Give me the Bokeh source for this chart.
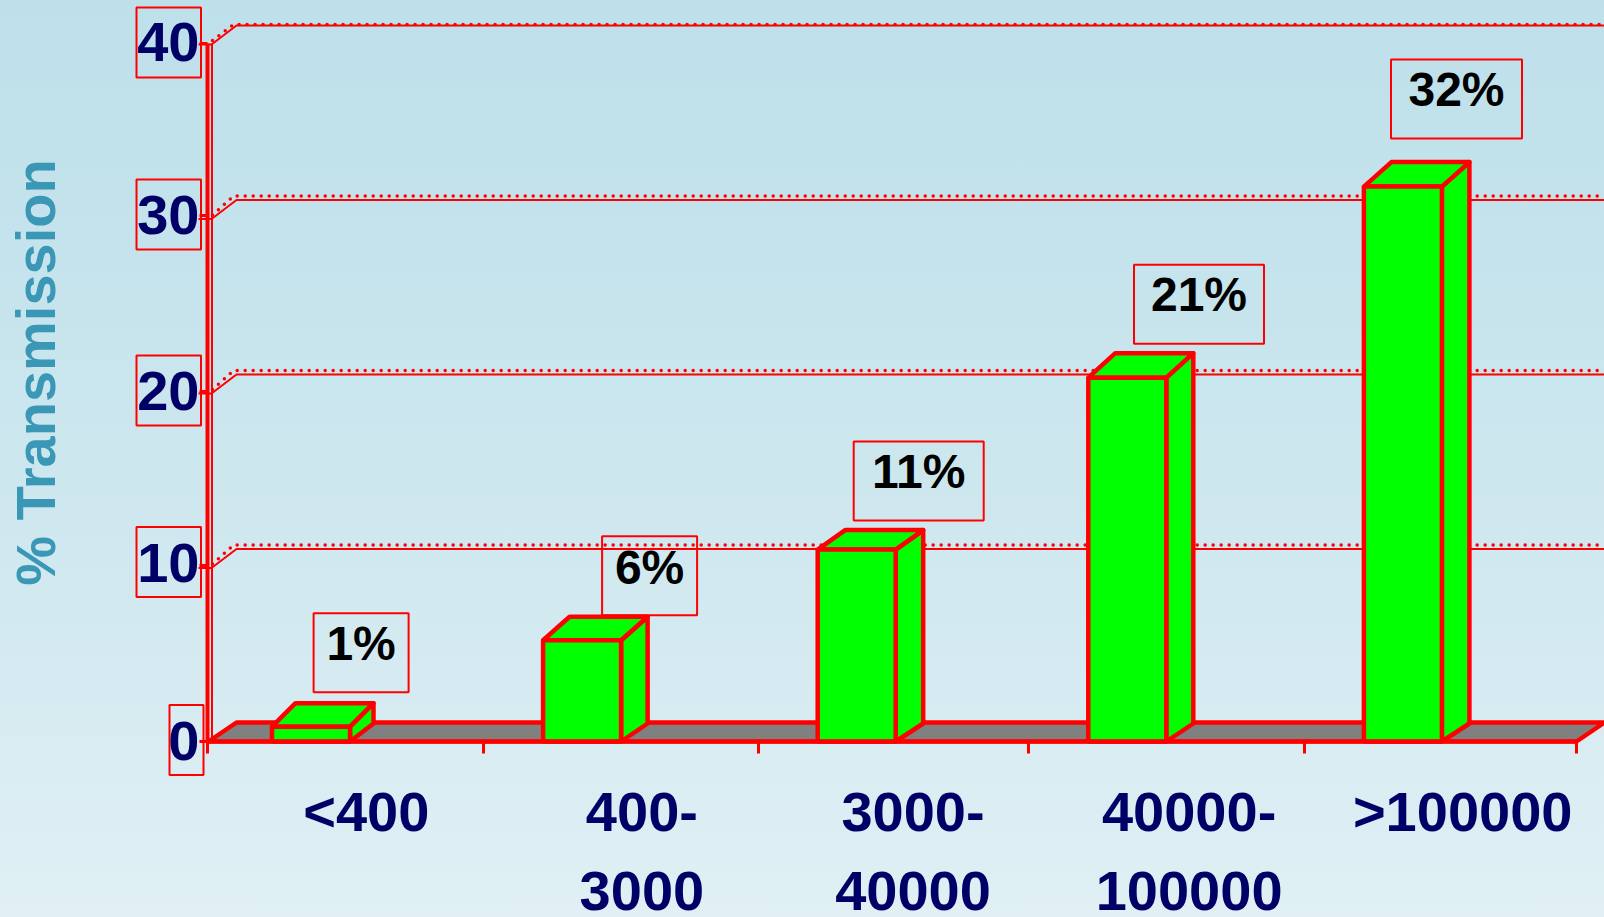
import math
from bokeh.plotting import figure
from bokeh.models import Range1d, LinearAxis, FixedTicker
from bokeh.core.properties import value
from bokeh.embed import file_html
from bokeh.resources import INLINE

# ---- chart data ----
categories = ["<400", "400-\n3000", "3000-\n40000", "40000-\n100000", ">100000"]
transmission = [0.85, 5.8, 11.0, 20.85, 31.8]
value_labels = ["1%", "6%", "11%", "21%", "32%"]
y_ticks = [0, 10, 20, 30, 40]
x_ticks = [0, 1, 2, 3, 4, 5]
y_title = "% Transmission"

# ---- layout (pixels) ----
PX_X = 273.6
PX_Y = 17.45
LEFT, BOTTOM = 208, 176
W, H = 1604, 917
def dx(px): return px / PX_X
def dy(px): return px / PX_Y

RED, GREEN, NAVY, TEAL, GREY = "#ff0000", "#00ff00", "#000066", "#3a97b5", "#808080"
FONT = "Liberation Sans"

css = """:host{position:fixed !important;left:0 !important;top:0 !important;
background:linear-gradient(180deg,#bee0ea 0%,#c4e3ec 25%,#d0e8ef 60%,#e0f0f5 100%) !important;}"""

p = figure(width=W, height=H, frame_width=W, frame_height=H,
           output_backend="svg", toolbar_location=None,
           x_range=Range1d(dx(-LEFT), dx(W - LEFT)), y_range=Range1d(dy(-BOTTOM), dy(H - BOTTOM)),
           x_axis_location=None, y_axis_location=None,
           min_border_left=0, min_border_bottom=0, min_border_top=0, min_border_right=0,
           background_fill_alpha=0, border_fill_alpha=0, outline_line_color=None,
           stylesheets=[css])
p.grid.visible = False

# ---- back wall grid lines ----
RISE = dy(19)
DEPTH = dx(28)
grid = [t for t in y_ticks if t > 0]
xs_end = dx(W - LEFT)
p.multi_line(xs=[[dx(-10), dx(3), DEPTH, xs_end] for _ in grid],
             ys=[[t - dy(1), t - dy(1), t + RISE - dy(1), t + RISE - dy(1)] for t in grid],
             line_color=RED, line_width=2)
dot_up = [dy(0) if t == 40 else dy(3) for t in grid]
p.multi_line(xs=[[dx(4), DEPTH - dx(3), xs_end] for _ in grid],
             ys=[[t + dy(3), t + RISE + u, t + RISE + u] for t, u in zip(grid, dot_up)],
             line_color=RED, line_width=3.5, line_dash="0 8", line_cap="round")
# second thin wall edge
p.line([dx(3.5), dx(3.5)], [0, 40], line_color=RED, line_width=2)

# ---- floor ----
p.patch([0, 5, 5 + dx(28), DEPTH], [0, 0, dy(19), dy(19)],
        fill_color=GREY, line_color=RED, line_width=4.5)

# ---- bars ----
bar_nudge = [2.5, 0, 1, -2, 0]
BAR_OFF, BAR_W = dx(61), dx(78)
top_dx = [dx(n) for n in [23.5, 26.5, 27.5, 27, 27.5]]
top_dy = [dy(n) for n in [23.5, 23.5, 19.5, 24.5, 24.5]]
BASE_DY = dy(18)
LW = 4.5
lefts = [i + BAR_OFF + dx(n) for i, n in enumerate(bar_nudge)]
rights = [l + BAR_W for l in lefts]
p.patches(xs=[[r, r + a, r + a, r] for r, a in zip(rights, top_dx)],
          ys=[[0, BASE_DY, v + b, v] for v, b in zip(transmission, top_dy)],
          fill_color=GREEN, line_color=RED, line_width=LW, line_join="round")
p.patches(xs=[[l, l + a, r + a, r] for l, r, a in zip(lefts, rights, top_dx)],
          ys=[[v, v + b, v + b, v] for v, b in zip(transmission, top_dy)],
          fill_color=GREEN, line_color=RED, line_width=LW, line_join="round")
p.quad(left=lefts, right=rights, bottom=[0] * len(lefts), top=transmission,
       fill_color=GREEN, line_color=RED, line_width=LW)

# ---- value labels in boxes ----
box_w = [95, 95, 130, 130, 131]
box_gap = [34.5, 25, 29, 34, 48]            # above the bar top
box_cx = [152.6, 167.5, 163, 169.7, 153.6]  # from the category's left tick
BOX_H = 79
text_up = [9, 8, 10, 10, 10]
cx = [i + dx(c) for i, c in enumerate(box_cx)]
bot = [v + dy(g) for v, g in zip(transmission, box_gap)]
p.quad(left=[c - dx(w) / 2 for c, w in zip(cx, box_w)],
       right=[c + dx(w) / 2 for c, w in zip(cx, box_w)],
       bottom=bot, top=[b + dy(BOX_H) for b in bot],
       fill_alpha=0, line_color=RED, line_width=2)
p.text(x=cx, y=[b + dy(BOX_H / 2 + u) for b, u in zip(bot, text_up)], text=value_labels,
       text_align="center", text_baseline="middle", text_color="#000000",
       text_font=value(FONT), text_font_style="bold", text_font_size="48px")

# ---- y axis title ----
p.text(x=[dx(35 - LEFT)], y=[dy(741 - 372)], text=[y_title], angle=[math.pi / 2],
       text_align="center", text_baseline="alphabetic", text_color=TEAL,
       text_font=value(FONT), text_font_style="bold", text_font_size="56px")

# ---- boxes round the y tick labels ----
box_up = [1.5, 5, 2, 3.6, 1]
box_left = [dx(-39) if t == 0 else dx(-72) for t in y_ticks]
box_right = [dx(-5) if t == 0 else dx(-7.5) for t in y_ticks]
box_mid = [t + dy(u) for t, u in zip(y_ticks, box_up)]
p.quad(left=box_left, right=box_right,
       bottom=[m - dy(35) for m in box_mid], top=[m + dy(35) for m in box_mid],
       fill_alpha=0, line_color=RED, line_width=2)

# ---- axes, fixed inside the frame at the chart's origin ----
label_up = [1, 4, 2, 3, 2]
y_label_pos = [t + dy(u) for t, u in zip(y_ticks, label_up)]
y_tick_nudge = [0, 1.5, 1, 2.5, 0]
ya = LinearAxis(ticker=FixedTicker(ticks=y_label_pos,
                                   minor_ticks=[t + dy(n) for t, n in zip(y_ticks, y_tick_nudge)]),
                fixed_location=dx(-1), bounds=(0, 40),
                major_label_overrides={m: str(t) for m, t in zip(y_label_pos, y_ticks)},
                axis_line_color=RED, axis_line_width=4,
                major_tick_line_color=None, major_tick_out=0, major_tick_in=0,
                minor_tick_line_color=RED, minor_tick_line_width=3,
                minor_tick_out=8, minor_tick_in=0,
                major_label_standoff=0,
                major_label_text_font=FONT, major_label_text_font_style="bold",
                major_label_text_font_size="56px", major_label_text_color=NAVY)
ya.major_label_orientation = "horizontal"
p.add_layout(ya, "left")

tick_nudge = [-1, 1, 3, -1, 2, 0]
label_nudge = [-2, 0, -2.5, 0, 0]
label_pos = [i + 0.5 + dx(23 + n) for i, n in enumerate(label_nudge)]
xa = LinearAxis(ticker=FixedTicker(ticks=label_pos,
                                   minor_ticks=[t + dx(n) for t, n in zip(x_ticks, tick_nudge)]),
                fixed_location=0, bounds=(0, 5),
                major_label_overrides={t: c for t, c in zip(label_pos, categories)},
                axis_line_color=RED, axis_line_width=4,
                major_tick_line_color=None, major_tick_out=0, major_tick_in=0,
                minor_tick_line_color=RED, minor_tick_line_width=3,
                minor_tick_out=12, minor_tick_in=0,
                major_label_standoff=26,
                major_label_text_font=FONT, major_label_text_font_style="bold",
                major_label_text_font_size="56px", major_label_text_color=NAVY,
                major_label_text_line_height=1.257)
p.add_layout(xa, "below")

open("out.html", "w").write(file_html(p, INLINE))
